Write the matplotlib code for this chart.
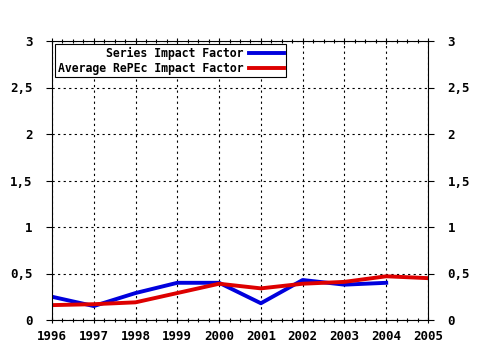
import matplotlib.pyplot as plt
from matplotlib.ticker import MultipleLocator, FuncFormatter

years = [1996, 1997, 1998, 1999, 2000, 2001, 2002, 2003, 2004, 2005]
series_if = [0.25, 0.15, 0.29, 0.40, 0.40, 0.18, 0.43, 0.38, 0.40]
average_if = [0.16, 0.17, 0.19, 0.29, 0.39, 0.34, 0.39, 0.41, 0.47, 0.45]

plt.rcParams['font.family'] = 'DejaVu Sans Mono'
plt.rcParams['font.weight'] = 'bold'
plt.rcParams['font.size'] = 9

fig = plt.figure(figsize=(4.8, 3.5), dpi=100)
ax = fig.add_axes([52 / 480, 30 / 350, 376 / 480, 279 / 350])

ax.plot(years[:len(series_if)], series_if, color='#0000dd', lw=2.8, label='Series Impact Factor')
ax.plot(years, average_if, color='#dd0000', lw=2.8, label='Average RePEc Impact Factor')

ax.set_xlim(1996, 2005)
ax.set_ylim(0, 3)
ax.set_xticks(years)
ax.xaxis.set_minor_locator(MultipleLocator(0.25))
ax.yaxis.set_major_locator(MultipleLocator(0.5))
ax.yaxis.set_major_formatter(FuncFormatter(lambda v, p: f'{v:g}'.replace('.', ',')))
ax.grid(True, which='major', color='black', linestyle=(0, (2, 3)), lw=0.8)

ax.tick_params(axis='x', which='both', direction='inout', top=True, length=5, width=0.8, pad=5)
ax.tick_params(axis='x', which='minor', length=3)
ax.tick_params(axis='y', direction='out', right=True, labelright=True, length=4, width=0.8, pad=10)
for s in ax.spines.values():
    s.set_linewidth(0.8)

leg = ax.legend(loc='upper left', markerfirst=False, frameon=True, fancybox=False,
                edgecolor='black', framealpha=1, borderpad=0.2, labelspacing=0.15,
                handlelength=3.0, handletextpad=0.5, borderaxespad=0.3, fontsize=8.3)
for t in leg.get_texts():
    t.set_ha('right')
leg._legend_box.align = 'right'
leg.get_frame().set_linewidth(0.8)

fig.savefig('out.png', dpi=100)
